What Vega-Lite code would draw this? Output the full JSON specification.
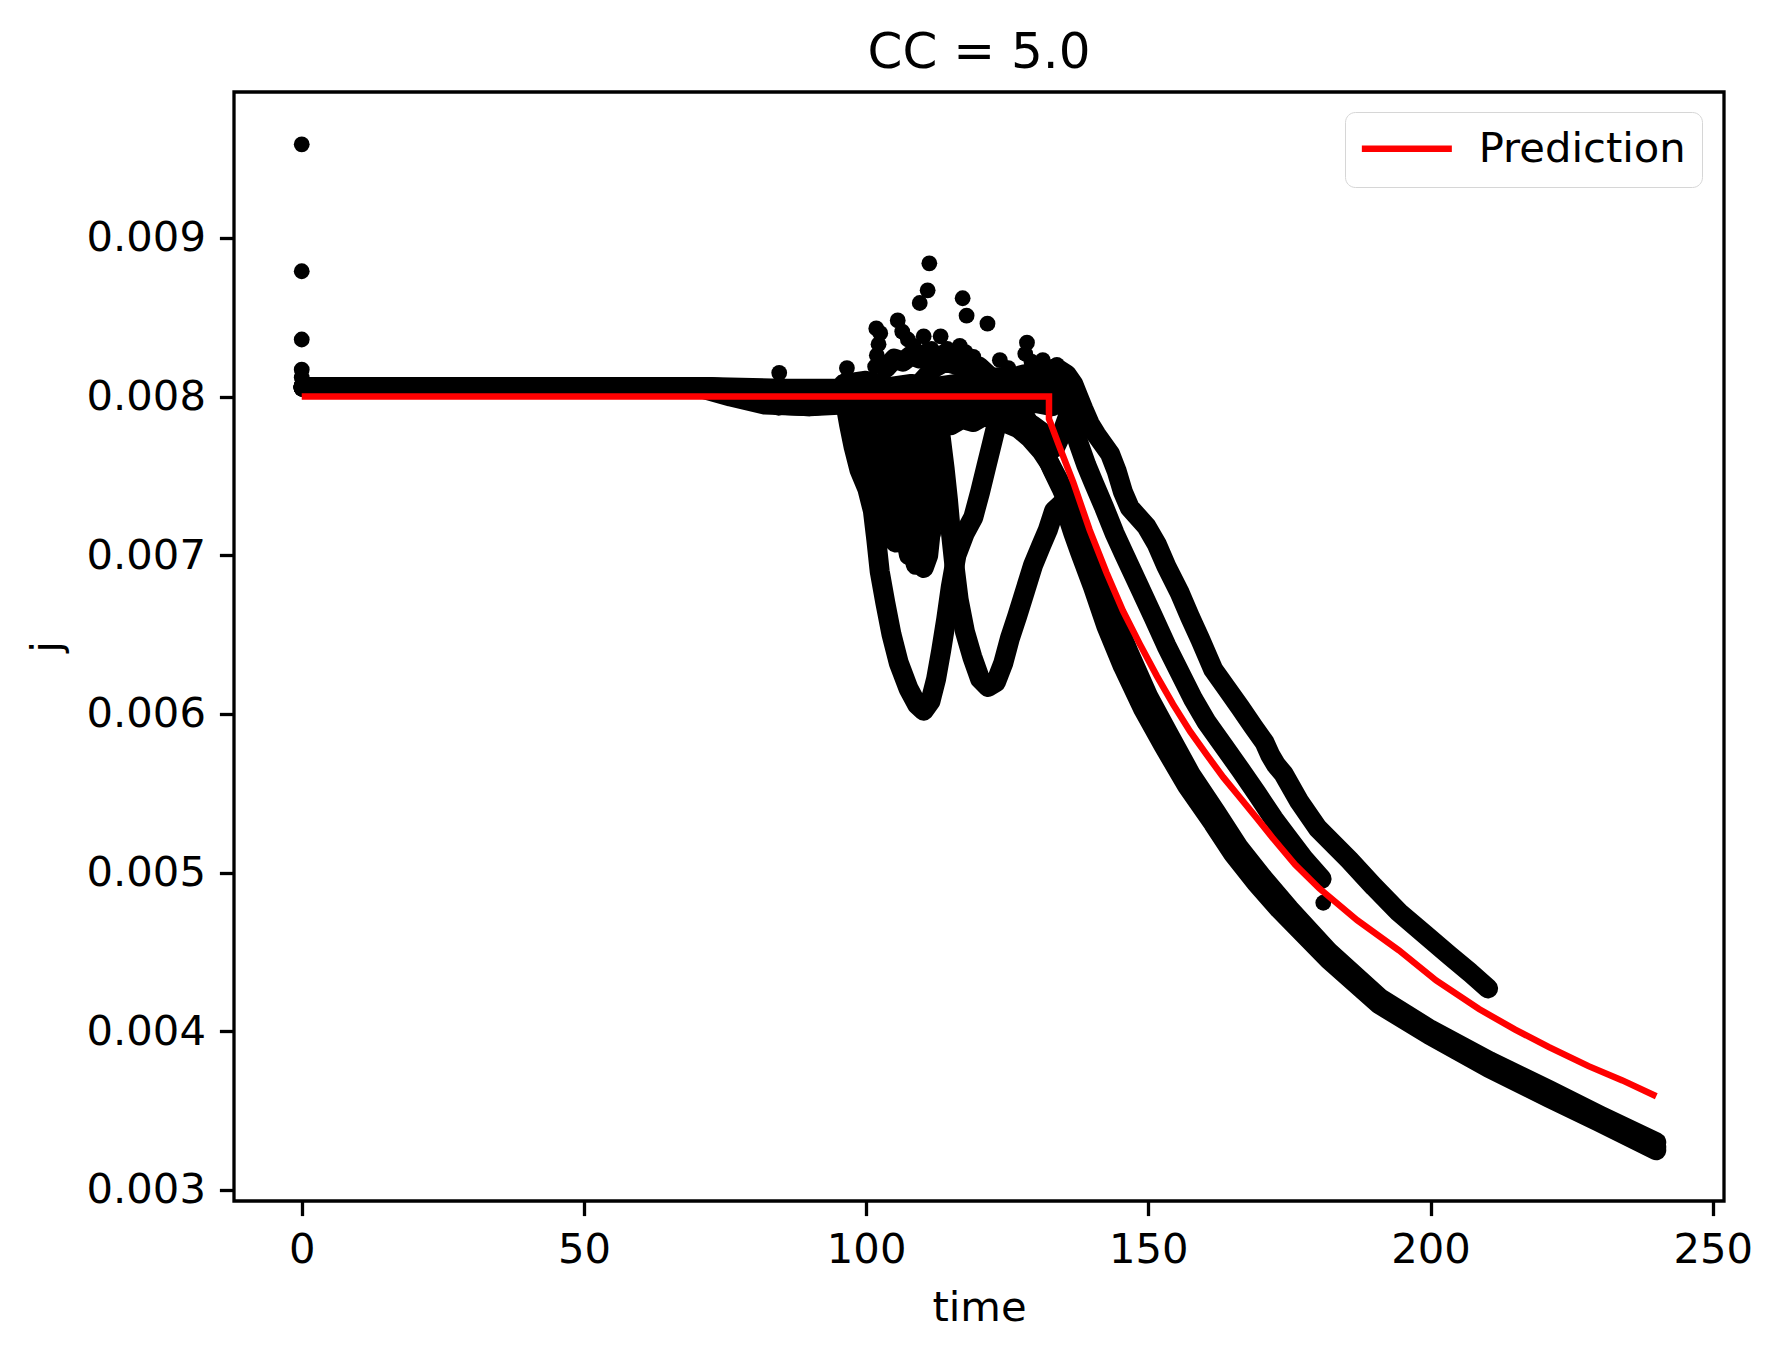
{
  "$schema": "https://vega.github.io/schema/vega-lite/v6.json",
  "width": 1490,
  "height": 1109,
  "autosize": {"type": "none"},
  "padding": {"left": 234, "top": 92, "right": 58, "bottom": 156},
  "background": "white",
  "title": {
    "text": "CC = 5.0",
    "font": "DejaVu Sans",
    "fontSize": 50,
    "fontWeight": "normal",
    "color": "black",
    "anchor": "middle",
    "offset": 14
  },
  "datasets": {
    "runs": [
      {"r": "1", "k": "d", "t": 0, "j": 0.00959},
      {"r": "1", "k": "t", "t": 0.3, "j": 0.00806},
      {"r": "1", "k": "t", "t": 20, "j": 0.00806},
      {"r": "1", "k": "t", "t": 40, "j": 0.00806},
      {"r": "1", "k": "t", "t": 60, "j": 0.00806},
      {"r": "1", "k": "t", "t": 72, "j": 0.00806},
      {"r": "1", "k": "t", "t": 80, "j": 0.00804},
      {"r": "1", "k": "t", "t": 88, "j": 0.00803},
      {"r": "1", "k": "t", "t": 95, "j": 0.00802},
      {"r": "1", "k": "t", "t": 96.3, "j": 0.00796},
      {"r": "1", "k": "t", "t": 97.0, "j": 0.00782},
      {"r": "1", "k": "t", "t": 97.8, "j": 0.00768},
      {"r": "1", "k": "t", "t": 98.8, "j": 0.00754},
      {"r": "1", "k": "t", "t": 100.2, "j": 0.00742},
      {"r": "1", "k": "t", "t": 101.2, "j": 0.00728},
      {"r": "1", "k": "t", "t": 101.8, "j": 0.00710},
      {"r": "1", "k": "t", "t": 102.4, "j": 0.00690},
      {"r": "1", "k": "t", "t": 103.4, "j": 0.00670},
      {"r": "1", "k": "t", "t": 104.5, "j": 0.00650},
      {"r": "1", "k": "t", "t": 105.8, "j": 0.00632},
      {"r": "1", "k": "t", "t": 107.5, "j": 0.00616},
      {"r": "1", "k": "t", "t": 109.0, "j": 0.00606},
      {"r": "1", "k": "t", "t": 110.2, "j": 0.00602},
      {"r": "1", "k": "t", "t": 111.4, "j": 0.00608},
      {"r": "1", "k": "t", "t": 112.4, "j": 0.00622},
      {"r": "1", "k": "t", "t": 113.3, "j": 0.00640},
      {"r": "1", "k": "t", "t": 114.2, "j": 0.00660},
      {"r": "1", "k": "t", "t": 115.0, "j": 0.00680},
      {"r": "1", "k": "t", "t": 116.0, "j": 0.00700},
      {"r": "1", "k": "t", "t": 117.5, "j": 0.00714},
      {"r": "1", "k": "t", "t": 119.0, "j": 0.00724},
      {"r": "1", "k": "t", "t": 120.2, "j": 0.00740},
      {"r": "1", "k": "t", "t": 121.3, "j": 0.00756},
      {"r": "1", "k": "t", "t": 122.4, "j": 0.00772},
      {"r": "1", "k": "t", "t": 123.5, "j": 0.00788},
      {"r": "1", "k": "t", "t": 125, "j": 0.00798},
      {"r": "1", "k": "t", "t": 126.8, "j": 0.00796},
      {"r": "1", "k": "t", "t": 128.4, "j": 0.00786},
      {"r": "1", "k": "t", "t": 130, "j": 0.00776},
      {"r": "1", "k": "t", "t": 131.6, "j": 0.00765},
      {"r": "1", "k": "t", "t": 133, "j": 0.00754},
      {"r": "1", "k": "t", "t": 134.5, "j": 0.00743},
      {"r": "1", "k": "t", "t": 136, "j": 0.00731},
      {"r": "1", "k": "t", "t": 137.5, "j": 0.00719},
      {"r": "1", "k": "t", "t": 139, "j": 0.00706},
      {"r": "1", "k": "t", "t": 141, "j": 0.00688},
      {"r": "1", "k": "t", "t": 143.5, "j": 0.00665},
      {"r": "1", "k": "t", "t": 146.5, "j": 0.00639},
      {"r": "1", "k": "t", "t": 150, "j": 0.00611},
      {"r": "1", "k": "t", "t": 153.5, "j": 0.00588},
      {"r": "1", "k": "t", "t": 157.5, "j": 0.00562},
      {"r": "1", "k": "t", "t": 162, "j": 0.00538},
      {"r": "1", "k": "t", "t": 166, "j": 0.00516},
      {"r": "1", "k": "t", "t": 170, "j": 0.00498},
      {"r": "1", "k": "t", "t": 175, "j": 0.00477},
      {"r": "1", "k": "t", "t": 182, "j": 0.00450},
      {"r": "1", "k": "t", "t": 191, "j": 0.00421},
      {"r": "1", "k": "t", "t": 200, "j": 0.00401},
      {"r": "1", "k": "t", "t": 210.5, "j": 0.00381},
      {"r": "1", "k": "t", "t": 221, "j": 0.00363},
      {"r": "1", "k": "t", "t": 230, "j": 0.00347},
      {"r": "1", "k": "t", "t": 240, "j": 0.00330},

      {"r": "2", "k": "d", "t": 0, "j": 0.00879},
      {"r": "2", "k": "t", "t": 0.3, "j": 0.00806},
      {"r": "2", "k": "t", "t": 40, "j": 0.00806},
      {"r": "2", "k": "t", "t": 72, "j": 0.00806},
      {"r": "2", "k": "t", "t": 78, "j": 0.00800},
      {"r": "2", "k": "t", "t": 84, "j": 0.00795},
      {"r": "2", "k": "t", "t": 90, "j": 0.00794},
      {"r": "2", "k": "t", "t": 96, "j": 0.00796},
      {"r": "2", "k": "t", "t": 100, "j": 0.00798},
      {"r": "2", "k": "t", "t": 104, "j": 0.00800},
      {"r": "2", "k": "t", "t": 108, "j": 0.00801},
      {"r": "2", "k": "t", "t": 111, "j": 0.00796},
      {"r": "2", "k": "t", "t": 112.5, "j": 0.00788},
      {"r": "2", "k": "t", "t": 113.2, "j": 0.00775},
      {"r": "2", "k": "t", "t": 113.9, "j": 0.00755},
      {"r": "2", "k": "t", "t": 114.5, "j": 0.00735},
      {"r": "2", "k": "t", "t": 115.0, "j": 0.00715},
      {"r": "2", "k": "t", "t": 115.6, "j": 0.00695},
      {"r": "2", "k": "t", "t": 116.4, "j": 0.00672},
      {"r": "2", "k": "t", "t": 117.5, "j": 0.00652},
      {"r": "2", "k": "t", "t": 118.8, "j": 0.00636},
      {"r": "2", "k": "t", "t": 120.2, "j": 0.00622},
      {"r": "2", "k": "t", "t": 121.6, "j": 0.00617},
      {"r": "2", "k": "t", "t": 123.0, "j": 0.00620},
      {"r": "2", "k": "t", "t": 124.3, "j": 0.00632},
      {"r": "2", "k": "t", "t": 125.5, "j": 0.00648},
      {"r": "2", "k": "t", "t": 126.8, "j": 0.00662},
      {"r": "2", "k": "t", "t": 128.2, "j": 0.00678},
      {"r": "2", "k": "t", "t": 129.6, "j": 0.00694},
      {"r": "2", "k": "t", "t": 131, "j": 0.00706},
      {"r": "2", "k": "t", "t": 132.2, "j": 0.00716},
      {"r": "2", "k": "t", "t": 133.3, "j": 0.00728},
      {"r": "2", "k": "t", "t": 134.5, "j": 0.00732},
      {"r": "2", "k": "t", "t": 135.5, "j": 0.00727},
      {"r": "2", "k": "t", "t": 136.7, "j": 0.00714},
      {"r": "2", "k": "t", "t": 137.9, "j": 0.00702},
      {"r": "2", "k": "t", "t": 140.2, "j": 0.00680},
      {"r": "2", "k": "t", "t": 142.6, "j": 0.00655},
      {"r": "2", "k": "t", "t": 145.5, "j": 0.00630},
      {"r": "2", "k": "t", "t": 149.1, "j": 0.00603},
      {"r": "2", "k": "t", "t": 152.7, "j": 0.00580},
      {"r": "2", "k": "t", "t": 156.8, "j": 0.00555},
      {"r": "2", "k": "t", "t": 161.5, "j": 0.00531},
      {"r": "2", "k": "t", "t": 165, "j": 0.00512},
      {"r": "2", "k": "t", "t": 169, "j": 0.00494},
      {"r": "2", "k": "t", "t": 173.2, "j": 0.00477},
      {"r": "2", "k": "t", "t": 182, "j": 0.00445},
      {"r": "2", "k": "t", "t": 190.9, "j": 0.00417},
      {"r": "2", "k": "t", "t": 199.7, "j": 0.00398},
      {"r": "2", "k": "t", "t": 210.3, "j": 0.00377},
      {"r": "2", "k": "t", "t": 221, "j": 0.00358},
      {"r": "2", "k": "t", "t": 229.8, "j": 0.00343},
      {"r": "2", "k": "t", "t": 240, "j": 0.00325},

      {"r": "3", "k": "d", "t": 0, "j": 0.00836},
      {"r": "3", "k": "t", "t": 0.3, "j": 0.00806},
      {"r": "3", "k": "t", "t": 40, "j": 0.00806},
      {"r": "3", "k": "t", "t": 72, "j": 0.00806},
      {"r": "3", "k": "t", "t": 80, "j": 0.00803},
      {"r": "3", "k": "t", "t": 90, "j": 0.00800},
      {"r": "3", "k": "t", "t": 100, "j": 0.00800},
      {"r": "3", "k": "t", "t": 104, "j": 0.00798},
      {"r": "3", "k": "t", "t": 106.2, "j": 0.00792},
      {"r": "3", "k": "t", "t": 107.0, "j": 0.00775},
      {"r": "3", "k": "t", "t": 107.6, "j": 0.00755},
      {"r": "3", "k": "t", "t": 108.1, "j": 0.00735},
      {"r": "3", "k": "t", "t": 108.5, "j": 0.00715},
      {"r": "3", "k": "t", "t": 109.2, "j": 0.00698},
      {"r": "3", "k": "t", "t": 110.2, "j": 0.00692},
      {"r": "3", "k": "t", "t": 111.0, "j": 0.00700},
      {"r": "3", "k": "t", "t": 111.6, "j": 0.00720},
      {"r": "3", "k": "t", "t": 112.0, "j": 0.00740},
      {"r": "3", "k": "t", "t": 112.4, "j": 0.00760},
      {"r": "3", "k": "t", "t": 112.9, "j": 0.00780},
      {"r": "3", "k": "t", "t": 114, "j": 0.00795},
      {"r": "3", "k": "t", "t": 118, "j": 0.00798},
      {"r": "3", "k": "t", "t": 122, "j": 0.00800},
      {"r": "3", "k": "t", "t": 127, "j": 0.00802},
      {"r": "3", "k": "t", "t": 131, "j": 0.00803},
      {"r": "3", "k": "t", "t": 134, "j": 0.00800},
      {"r": "3", "k": "t", "t": 135.5, "j": 0.00792},
      {"r": "3", "k": "t", "t": 136.6, "j": 0.00782},
      {"r": "3", "k": "t", "t": 137.7, "j": 0.00770},
      {"r": "3", "k": "t", "t": 139, "j": 0.00757},
      {"r": "3", "k": "t", "t": 140.4, "j": 0.00745},
      {"r": "3", "k": "t", "t": 142.2, "j": 0.00730},
      {"r": "3", "k": "t", "t": 144, "j": 0.00714},
      {"r": "3", "k": "t", "t": 145.8, "j": 0.00700},
      {"r": "3", "k": "t", "t": 148.3, "j": 0.00681},
      {"r": "3", "k": "t", "t": 150.9, "j": 0.00661},
      {"r": "3", "k": "t", "t": 153.2, "j": 0.00643},
      {"r": "3", "k": "t", "t": 155.6, "j": 0.00626},
      {"r": "3", "k": "t", "t": 158, "j": 0.00609},
      {"r": "3", "k": "t", "t": 160.3, "j": 0.00595},
      {"r": "3", "k": "t", "t": 163.3, "j": 0.00580},
      {"r": "3", "k": "t", "t": 166.3, "j": 0.00565},
      {"r": "3", "k": "t", "t": 169.2, "j": 0.00550},
      {"r": "3", "k": "t", "t": 172.2, "j": 0.00534},
      {"r": "3", "k": "t", "t": 174.5, "j": 0.00523},
      {"r": "3", "k": "t", "t": 177.5, "j": 0.00509},
      {"r": "3", "k": "t", "t": 180.7, "j": 0.00496},
      {"r": "3", "k": "d", "t": 181, "j": 0.00481},

      {"r": "4", "k": "d", "t": 0, "j": 0.00817},
      {"r": "4", "k": "t", "t": 0.3, "j": 0.00806},
      {"r": "4", "k": "t", "t": 40, "j": 0.00806},
      {"r": "4", "k": "t", "t": 72, "j": 0.00806},
      {"r": "4", "k": "t", "t": 85, "j": 0.00805},
      {"r": "4", "k": "t", "t": 95, "j": 0.00805},
      {"r": "4", "k": "t", "t": 100.5, "j": 0.00800},
      {"r": "4", "k": "t", "t": 101.5, "j": 0.00784},
      {"r": "4", "k": "t", "t": 102.3, "j": 0.00765},
      {"r": "4", "k": "t", "t": 103.0, "j": 0.00745},
      {"r": "4", "k": "t", "t": 103.6, "j": 0.00728},
      {"r": "4", "k": "t", "t": 104.3, "j": 0.00712},
      {"r": "4", "k": "t", "t": 105.2, "j": 0.00708},
      {"r": "4", "k": "t", "t": 106.0, "j": 0.00718},
      {"r": "4", "k": "t", "t": 106.4, "j": 0.00738},
      {"r": "4", "k": "t", "t": 106.6, "j": 0.00758},
      {"r": "4", "k": "t", "t": 107.0, "j": 0.00778},
      {"r": "4", "k": "t", "t": 108, "j": 0.00795},
      {"r": "4", "k": "t", "t": 110, "j": 0.00810},
      {"r": "4", "k": "t", "t": 112, "j": 0.00818},
      {"r": "4", "k": "t", "t": 114, "j": 0.00822},
      {"r": "4", "k": "t", "t": 116, "j": 0.00820},
      {"r": "4", "k": "t", "t": 118, "j": 0.00822},
      {"r": "4", "k": "t", "t": 120, "j": 0.00816},
      {"r": "4", "k": "t", "t": 122, "j": 0.00812},
      {"r": "4", "k": "t", "t": 124, "j": 0.00812},
      {"r": "4", "k": "t", "t": 126, "j": 0.00812},
      {"r": "4", "k": "t", "t": 128, "j": 0.00814},
      {"r": "4", "k": "t", "t": 130, "j": 0.00815},
      {"r": "4", "k": "t", "t": 132, "j": 0.00816},
      {"r": "4", "k": "t", "t": 133.7, "j": 0.00818},
      {"r": "4", "k": "t", "t": 135.5, "j": 0.00814},
      {"r": "4", "k": "t", "t": 136.7, "j": 0.00808},
      {"r": "4", "k": "t", "t": 137.6, "j": 0.00800},
      {"r": "4", "k": "t", "t": 138.5, "j": 0.00792},
      {"r": "4", "k": "t", "t": 139.6, "j": 0.00783},
      {"r": "4", "k": "t", "t": 140.8, "j": 0.00776},
      {"r": "4", "k": "t", "t": 142, "j": 0.00770},
      {"r": "4", "k": "t", "t": 143.2, "j": 0.00764},
      {"r": "4", "k": "t", "t": 144.4, "j": 0.00753},
      {"r": "4", "k": "t", "t": 145.5, "j": 0.00740},
      {"r": "4", "k": "t", "t": 146.7, "j": 0.00730},
      {"r": "4", "k": "t", "t": 148.2, "j": 0.00724},
      {"r": "4", "k": "t", "t": 149.7, "j": 0.00718},
      {"r": "4", "k": "t", "t": 151.5, "j": 0.00707},
      {"r": "4", "k": "t", "t": 153.2, "j": 0.00693},
      {"r": "4", "k": "t", "t": 155.6, "j": 0.00676},
      {"r": "4", "k": "t", "t": 157.4, "j": 0.00661},
      {"r": "4", "k": "t", "t": 159.2, "j": 0.00647},
      {"r": "4", "k": "t", "t": 161.5, "j": 0.00628},
      {"r": "4", "k": "t", "t": 163.9, "j": 0.00616},
      {"r": "4", "k": "t", "t": 166.3, "j": 0.00604},
      {"r": "4", "k": "t", "t": 168.6, "j": 0.00592},
      {"r": "4", "k": "t", "t": 170.6, "j": 0.00582},
      {"r": "4", "k": "t", "t": 171.6, "j": 0.00574},
      {"r": "4", "k": "t", "t": 172.6, "j": 0.00568},
      {"r": "4", "k": "t", "t": 174, "j": 0.00562},
      {"r": "4", "k": "t", "t": 176.7, "j": 0.00545},
      {"r": "4", "k": "t", "t": 180, "j": 0.00528},
      {"r": "4", "k": "t", "t": 185.6, "j": 0.00508},
      {"r": "4", "k": "t", "t": 190, "j": 0.00491},
      {"r": "4", "k": "t", "t": 194.4, "j": 0.00475},
      {"r": "4", "k": "t", "t": 199, "j": 0.00461},
      {"r": "4", "k": "t", "t": 203.3, "j": 0.00448},
      {"r": "4", "k": "t", "t": 207, "j": 0.00437},
      {"r": "4", "k": "t", "t": 210.2, "j": 0.00427},

      {"r": "5", "k": "d", "t": 0, "j": 0.00812},
      {"r": "5", "k": "t", "t": 0.3, "j": 0.00806},
      {"r": "5", "k": "t", "t": 40, "j": 0.00806},
      {"r": "5", "k": "t", "t": 70, "j": 0.00806},
      {"r": "5", "k": "t", "t": 76, "j": 0.00800},
      {"r": "5", "k": "t", "t": 82, "j": 0.00795},
      {"r": "5", "k": "t", "t": 90, "j": 0.00794},
      {"r": "5", "k": "t", "t": 96, "j": 0.00795},
      {"r": "5", "k": "t", "t": 98.2, "j": 0.00790},
      {"r": "5", "k": "t", "t": 99, "j": 0.00776},
      {"r": "5", "k": "t", "t": 99.8, "j": 0.00762},
      {"r": "5", "k": "t", "t": 100.6, "j": 0.00750},
      {"r": "5", "k": "t", "t": 101.4, "j": 0.00742},
      {"r": "5", "k": "t", "t": 102.4, "j": 0.00748},
      {"r": "5", "k": "t", "t": 103.0, "j": 0.00765},
      {"r": "5", "k": "t", "t": 103.8, "j": 0.00778},
      {"r": "5", "k": "t", "t": 105, "j": 0.00784},
      {"r": "5", "k": "t", "t": 107, "j": 0.00780},
      {"r": "5", "k": "t", "t": 109, "j": 0.00784},
      {"r": "5", "k": "t", "t": 111, "j": 0.00782},
      {"r": "5", "k": "t", "t": 113, "j": 0.00785},
      {"r": "5", "k": "t", "t": 115, "j": 0.00782},
      {"r": "5", "k": "t", "t": 117, "j": 0.00786},
      {"r": "5", "k": "t", "t": 119, "j": 0.00784},
      {"r": "5", "k": "t", "t": 121, "j": 0.00788},
      {"r": "5", "k": "t", "t": 123, "j": 0.00786},
      {"r": "5", "k": "t", "t": 125, "j": 0.00783},
      {"r": "5", "k": "t", "t": 127, "j": 0.00780},
      {"r": "5", "k": "t", "t": 129, "j": 0.00774},
      {"r": "5", "k": "t", "t": 131, "j": 0.00766},
      {"r": "5", "k": "t", "t": 132.5, "j": 0.00758},
      {"r": "5", "k": "t", "t": 134, "j": 0.00748},
      {"r": "5", "k": "t", "t": 135.5, "j": 0.00736},
      {"r": "5", "k": "t", "t": 137, "j": 0.00722},
      {"r": "5", "k": "t", "t": 138.5, "j": 0.00709},
      {"r": "5", "k": "t", "t": 140.5, "j": 0.00690},
      {"r": "5", "k": "t", "t": 143, "j": 0.00666},
      {"r": "5", "k": "t", "t": 146, "j": 0.00636},
      {"r": "5", "k": "t", "t": 150, "j": 0.00604},
      {"r": "5", "k": "t", "t": 155, "j": 0.00570},
      {"r": "5", "k": "t", "t": 160, "j": 0.00544},
      {"r": "5", "k": "t", "t": 165, "j": 0.00516},
      {"r": "5", "k": "t", "t": 170, "j": 0.00496},
      {"r": "5", "k": "t", "t": 175, "j": 0.00475},
      {"r": "5", "k": "t", "t": 182, "j": 0.00447},
      {"r": "5", "k": "t", "t": 191, "j": 0.00419},
      {"r": "5", "k": "t", "t": 200, "j": 0.00399},
      {"r": "5", "k": "t", "t": 210.4, "j": 0.00379},
      {"r": "5", "k": "t", "t": 221, "j": 0.00360},
      {"r": "5", "k": "t", "t": 230, "j": 0.00345},
      {"r": "5", "k": "t", "t": 240, "j": 0.00327},

      {"r": "f1", "k": "t", "t": 97.5, "j": 0.00792},
      {"r": "f1", "k": "t", "t": 98.4, "j": 0.00776},
      {"r": "f1", "k": "t", "t": 99.4, "j": 0.00766},
      {"r": "f1", "k": "t", "t": 100.4, "j": 0.00772},
      {"r": "f1", "k": "t", "t": 101.2, "j": 0.00790},

      {"r": "f2", "k": "t", "t": 101.6, "j": 0.00735},
      {"r": "f2", "k": "t", "t": 102.5, "j": 0.00722},
      {"r": "f2", "k": "t", "t": 103.4, "j": 0.00712},
      {"r": "f2", "k": "t", "t": 104.5, "j": 0.00726},
      {"r": "f2", "k": "t", "t": 105.5, "j": 0.00745},
      {"r": "f2", "k": "t", "t": 106.3, "j": 0.00770},

      {"r": "f3", "k": "t", "t": 104.6, "j": 0.00790},
      {"r": "f3", "k": "t", "t": 105.4, "j": 0.00768},
      {"r": "f3", "k": "t", "t": 106.6, "j": 0.00750},
      {"r": "f3", "k": "t", "t": 107.4, "j": 0.00728},
      {"r": "f3", "k": "t", "t": 108, "j": 0.00708},
      {"r": "f3", "k": "t", "t": 108.8, "j": 0.00694},

      {"r": "f4", "k": "t", "t": 109.4, "j": 0.00790},
      {"r": "f4", "k": "t", "t": 109.9, "j": 0.00770},
      {"r": "f4", "k": "t", "t": 110.3, "j": 0.00750},
      {"r": "f4", "k": "t", "t": 110.8, "j": 0.00730},
      {"r": "f4", "k": "t", "t": 111.5, "j": 0.00714},

      {"r": "f5", "k": "t", "t": 104.4, "j": 0.00776},
      {"r": "f5", "k": "t", "t": 105.6, "j": 0.00760},
      {"r": "f5", "k": "t", "t": 107, "j": 0.00756},
      {"r": "f5", "k": "t", "t": 108.4, "j": 0.00760},
      {"r": "f5", "k": "t", "t": 109.4, "j": 0.00748},
      {"r": "f5", "k": "t", "t": 110.5, "j": 0.00738},
      {"r": "f5", "k": "t", "t": 111.4, "j": 0.00748},
      {"r": "f5", "k": "t", "t": 112.2, "j": 0.00770},

      {"r": "f6", "k": "t", "t": 126.5, "j": 0.00790},
      {"r": "f6", "k": "t", "t": 128, "j": 0.00780},
      {"r": "f6", "k": "t", "t": 129.5, "j": 0.00782},
      {"r": "f6", "k": "t", "t": 131, "j": 0.00778},
      {"r": "f6", "k": "t", "t": 132.3, "j": 0.00770},
      {"r": "f6", "k": "t", "t": 133.5, "j": 0.00768},
      {"r": "f6", "k": "t", "t": 134.8, "j": 0.00778},
      {"r": "f6", "k": "t", "t": 136, "j": 0.00790},

      {"r": "f8", "k": "t", "t": 96, "j": 0.00808},
      {"r": "f8", "k": "t", "t": 100, "j": 0.00810},
      {"r": "f8", "k": "t", "t": 104, "j": 0.00806},
      {"r": "f8", "k": "t", "t": 108, "j": 0.00808},
      {"r": "f8", "k": "t", "t": 112, "j": 0.00806},
      {"r": "f8", "k": "t", "t": 116, "j": 0.00808},
      {"r": "f8", "k": "t", "t": 120, "j": 0.00806},
      {"r": "f8", "k": "t", "t": 124, "j": 0.00806},
      {"r": "f8", "k": "t", "t": 128, "j": 0.00806},
      {"r": "f8", "k": "t", "t": 132, "j": 0.00806},
      {"r": "f8", "k": "t", "t": 134.5, "j": 0.00806},
      {"r": "f8", "k": "t", "t": 136, "j": 0.00800},

      {"r": "f9", "k": "t", "t": 98, "j": 0.00800},
      {"r": "f9", "k": "t", "t": 102, "j": 0.00796},
      {"r": "f9", "k": "t", "t": 106, "j": 0.00796},
      {"r": "f9", "k": "t", "t": 110, "j": 0.00794},
      {"r": "f9", "k": "t", "t": 114, "j": 0.00792},
      {"r": "f9", "k": "t", "t": 118, "j": 0.00793},
      {"r": "f9", "k": "t", "t": 122, "j": 0.00796},
      {"r": "f9", "k": "t", "t": 126, "j": 0.00794},
      {"r": "f9", "k": "t", "t": 130, "j": 0.00796},
      {"r": "f9", "k": "t", "t": 133, "j": 0.00794},

      {"r": "f10", "k": "t", "t": 103.5, "j": 0.00818},
      {"r": "f10", "k": "t", "t": 105, "j": 0.00824},
      {"r": "f10", "k": "t", "t": 106.5, "j": 0.00822},
      {"r": "f10", "k": "t", "t": 108, "j": 0.00826},
      {"r": "f10", "k": "t", "t": 109.5, "j": 0.00824},
      {"r": "f10", "k": "t", "t": 111, "j": 0.00828},
      {"r": "f10", "k": "t", "t": 112.5, "j": 0.00824},
      {"r": "f10", "k": "t", "t": 114, "j": 0.00827},
      {"r": "f10", "k": "t", "t": 115.5, "j": 0.00823},
      {"r": "f10", "k": "t", "t": 117, "j": 0.00820},
      {"r": "f10", "k": "t", "t": 118.5, "j": 0.00815},
      {"r": "f10", "k": "t", "t": 120, "j": 0.00819},
      {"r": "f10", "k": "t", "t": 121.5, "j": 0.00814},

      {"r": "f11", "k": "t", "t": 103.8, "j": 0.00760},
      {"r": "f11", "k": "t", "t": 104.8, "j": 0.00745},
      {"r": "f11", "k": "t", "t": 105.8, "j": 0.00730},
      {"r": "f11", "k": "t", "t": 106.8, "j": 0.00715},
      {"r": "f11", "k": "t", "t": 107.6, "j": 0.00700},

      {"r": "f12", "k": "t", "t": 108.6, "j": 0.00780},
      {"r": "f12", "k": "t", "t": 109.2, "j": 0.00760},
      {"r": "f12", "k": "t", "t": 109.6, "j": 0.00740},
      {"r": "f12", "k": "t", "t": 110, "j": 0.00720},
      {"r": "f12", "k": "t", "t": 110.4, "j": 0.00705},

      {"r": "f13", "k": "t", "t": 111.2, "j": 0.00790},
      {"r": "f13", "k": "t", "t": 111.8, "j": 0.00772},
      {"r": "f13", "k": "t", "t": 112.6, "j": 0.00752},
      {"r": "f13", "k": "t", "t": 113.2, "j": 0.00735},

      {"r": "x", "k": "d", "t": 84.6, "j": 0.00815},
      {"r": "x", "k": "d", "t": 84.5, "j": 0.00793},
      {"r": "x", "k": "d", "t": 96.6, "j": 0.00818},
      {"r": "x", "k": "d", "t": 96.3, "j": 0.00810},
      {"r": "x", "k": "d", "t": 101.8, "j": 0.00843},
      {"r": "x", "k": "d", "t": 102.5, "j": 0.00840},
      {"r": "x", "k": "d", "t": 102.2, "j": 0.00833},
      {"r": "x", "k": "d", "t": 101.9, "j": 0.00826},
      {"r": "x", "k": "d", "t": 101.6, "j": 0.00819},
      {"r": "x", "k": "d", "t": 105.6, "j": 0.00848},
      {"r": "x", "k": "d", "t": 106.4, "j": 0.00841},
      {"r": "x", "k": "d", "t": 107.4, "j": 0.00836},
      {"r": "x", "k": "d", "t": 108.4, "j": 0.00832},
      {"r": "x", "k": "d", "t": 109.5, "j": 0.00859},
      {"r": "x", "k": "d", "t": 110.9, "j": 0.00867},
      {"r": "x", "k": "d", "t": 111.2, "j": 0.00884},
      {"r": "x", "k": "d", "t": 110.2, "j": 0.00838},
      {"r": "x", "k": "d", "t": 111.6, "j": 0.00830},
      {"r": "x", "k": "d", "t": 113.2, "j": 0.00838},
      {"r": "x", "k": "d", "t": 114.4, "j": 0.00830},
      {"r": "x", "k": "d", "t": 116.6, "j": 0.00832},
      {"r": "x", "k": "d", "t": 117.1, "j": 0.00862},
      {"r": "x", "k": "d", "t": 117.8, "j": 0.00851},
      {"r": "x", "k": "d", "t": 117.6, "j": 0.00828},
      {"r": "x", "k": "d", "t": 119, "j": 0.00825},
      {"r": "x", "k": "d", "t": 121.5, "j": 0.00846},
      {"r": "x", "k": "d", "t": 123.7, "j": 0.00823},
      {"r": "x", "k": "d", "t": 125.2, "j": 0.00818},
      {"r": "x", "k": "d", "t": 128.2, "j": 0.00827},
      {"r": "x", "k": "d", "t": 128.5, "j": 0.00834},
      {"r": "x", "k": "d", "t": 129.3, "j": 0.00822},
      {"r": "x", "k": "d", "t": 131.3, "j": 0.00823},
      {"r": "x", "k": "d", "t": 133.8, "j": 0.00820},
      {"r": "x", "k": "d", "t": 136.1, "j": 0.00812}
    ],
    "pred": [
      {"label": "Prediction", "i": 0, "t": 0, "j": 0.00800},
      {"label": "Prediction", "i": 1, "t": 132.4, "j": 0.00800},
      {"label": "Prediction", "i": 2, "t": 132.4, "j": 0.00786},
      {"label": "Prediction", "i": 3, "t": 134.3, "j": 0.00768},
      {"label": "Prediction", "i": 4, "t": 136.7, "j": 0.00746},
      {"label": "Prediction", "i": 5, "t": 139.6, "j": 0.00716},
      {"label": "Prediction", "i": 6, "t": 142.6, "j": 0.00689},
      {"label": "Prediction", "i": 7, "t": 145.5, "j": 0.00665},
      {"label": "Prediction", "i": 8, "t": 148.5, "j": 0.00644},
      {"label": "Prediction", "i": 9, "t": 151.5, "j": 0.00624},
      {"label": "Prediction", "i": 10, "t": 154.4, "j": 0.00606},
      {"label": "Prediction", "i": 11, "t": 157.4, "j": 0.00589},
      {"label": "Prediction", "i": 12, "t": 160.4, "j": 0.00574},
      {"label": "Prediction", "i": 13, "t": 163.3, "j": 0.00560},
      {"label": "Prediction", "i": 14, "t": 166.3, "j": 0.00547},
      {"label": "Prediction", "i": 15, "t": 169.3, "j": 0.00534},
      {"label": "Prediction", "i": 16, "t": 172, "j": 0.00522},
      {"label": "Prediction", "i": 17, "t": 176, "j": 0.00505},
      {"label": "Prediction", "i": 18, "t": 180.3, "j": 0.00490},
      {"label": "Prediction", "i": 19, "t": 187, "j": 0.00470},
      {"label": "Prediction", "i": 20, "t": 194.4, "j": 0.00451},
      {"label": "Prediction", "i": 21, "t": 201, "j": 0.00432},
      {"label": "Prediction", "i": 22, "t": 208.6, "j": 0.00414},
      {"label": "Prediction", "i": 23, "t": 215, "j": 0.00401},
      {"label": "Prediction", "i": 24, "t": 221, "j": 0.00390},
      {"label": "Prediction", "i": 25, "t": 228, "j": 0.00378},
      {"label": "Prediction", "i": 26, "t": 234, "j": 0.00369},
      {"label": "Prediction", "i": 27, "t": 240, "j": 0.00359}
    ]
  },
  "encoding": {
    "x": {
      "field": "t",
      "type": "quantitative",
      "title": "time",
      "scale": {"domain": [-12, 252], "nice": false, "zero": false},
      "axis": {"values": [0, 50, 100, 150, 200, 250], "titlePadding": 16}
    },
    "y": {
      "field": "j",
      "type": "quantitative",
      "title": "j",
      "scale": {"domain": [0.00293, 0.00992], "nice": false, "zero": false},
      "axis": {"values": [0.003, 0.004, 0.005, 0.006, 0.007, 0.008, 0.009], "format": ".3f", "titlePadding": 18}
    }
  },
  "layer": [
    {
      "data": {"name": "runs"},
      "transform": [{"filter": "datum.k == 't'"}],
      "mark": {"type": "line", "color": "black", "strokeWidth": 20, "strokeCap": "round", "strokeJoin": "round"},
      "encoding": {"detail": {"field": "r", "type": "nominal"}}
    },
    {
      "data": {"name": "runs"},
      "mark": {"type": "circle", "color": "black", "opacity": 1, "size": 250},
      "encoding": {}
    },
    {
      "data": {"name": "pred"},
      "mark": {"type": "line", "strokeWidth": 6.5},
      "encoding": {
        "order": {"field": "i", "type": "quantitative"},
        "color": {
          "field": "label",
          "type": "nominal",
          "scale": {"domain": ["Prediction"], "range": ["#ff0000"]},
          "legend": {
            "title": null,
            "orient": "none",
            "legendX": 1111,
            "legendY": 20,
            "symbolType": "M-3,0H3",
            "symbolSize": 900,
            "symbolStrokeWidth": 6.5,
            "symbolOffset": 25,
            "labelFont": "DejaVu Sans",
            "labelFontSize": 41.7,
            "labelColor": "black",
            "labelOffset": 51,
            "labelLimit": 600,
            "padding": 16,
            "strokeColor": "#d6d6d6",
            "fillColor": "white",
            "cornerRadius": 10
          }
        }
      }
    }
  ],
  "config": {
    "font": "DejaVu Sans",
    "view": {"stroke": "black", "strokeWidth": 3.3},
    "axis": {
      "grid": false,
      "domain": false,
      "ticks": true,
      "tickSize": 14.6,
      "tickWidth": 3.3,
      "tickColor": "black",
      "labelFont": "DejaVu Sans",
      "labelFontSize": 41.7,
      "labelColor": "black",
      "labelPadding": 14,
      "labelFlush": false,
      "labelOverlap": false,
      "titleFont": "DejaVu Sans",
      "titleFontSize": 41.7,
      "titleFontWeight": "normal",
      "titleColor": "black"
    }
  }
}
